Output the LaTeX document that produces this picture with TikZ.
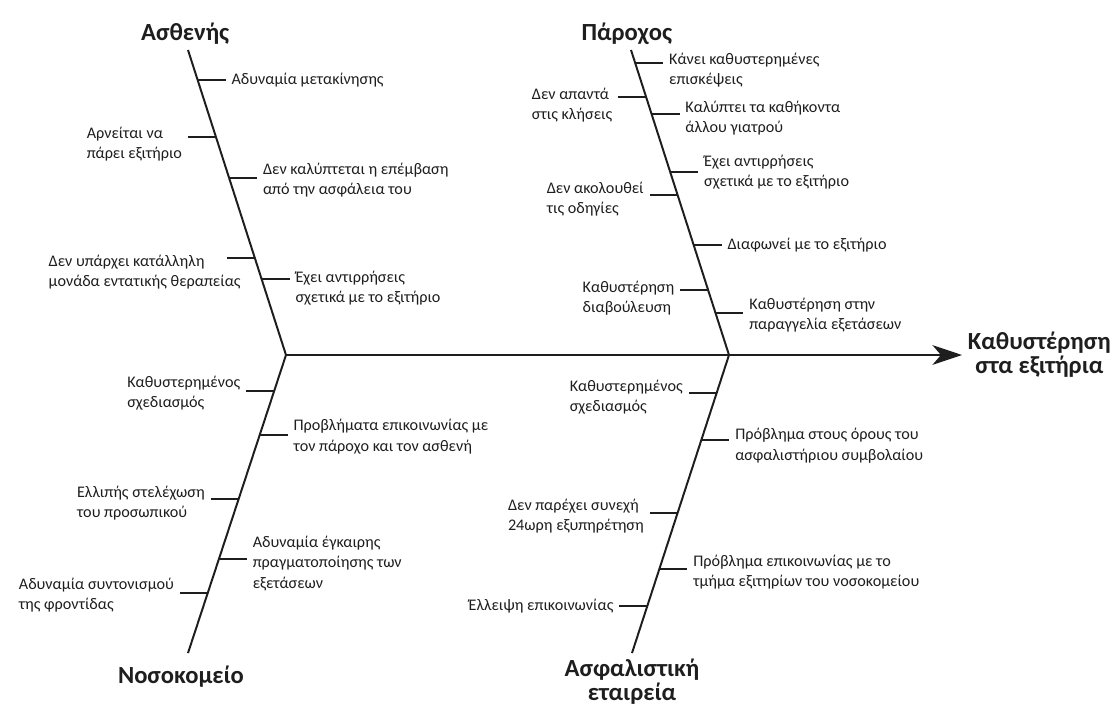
\documentclass[tikz,border=0pt]{standalone}
\usepackage{fontspec}
\setmainfont{Carlito}
\usetikzlibrary{arrows.meta, positioning, calc}
\definecolor{Ink}{RGB}{30, 30, 30}

\begin{document}
\begin{tikzpicture}[
    x=0.025cm, y=-0.025cm,
    bone/.style={draw=Ink, line width=1.4pt},
    spine/.style={-{Stealth[length=21pt, width=14pt, inset=6pt]}, draw=Ink, line width=1.5pt},
    tick/.style={draw=Ink, line width=1pt},
    cause/.style={text=Ink, font=\fontsize{11.5}{14.6}\selectfont, align=left,
                  inner xsep=4pt, inner ysep=1pt},
    head/.style={text=Ink, font=\fontsize{17.5}{17}\selectfont\bfseries, align=center, inner sep=1pt}
]
\useasboundingbox (0,0) rectangle (1115,711);

% ends of the four bones
\coordinate (jL) at (286,355);
\coordinate (jR) at (729,355);
\coordinate (pat) at (188,50);
\coordinate (hos) at (188,653);
\coordinate (pro) at (631,50);
\coordinate (ins) at (632,653);

% effect and main spine
\node[head, anchor=west, inner xsep=4pt] (effect) at (962,355) {Καθυστέρηση\\στα εξιτήρια};
\draw[spine] (jL) -- (effect.west);

% bones, with the points where the causes branch off
\draw[bone] (pat) -- (jL) coordinate[pos=0.098] (a1) coordinate[pos=0.285] (a2)
    coordinate[pos=0.420] (a3) coordinate[pos=0.682] (a4) coordinate[pos=0.751] (a5);
\draw[bone] (jL) -- (hos) coordinate[pos=0.121] (a6) coordinate[pos=0.268] (a7)
    coordinate[pos=0.483] (a8) coordinate[pos=0.685] (a9) coordinate[pos=0.799] (a10);
\draw[bone] (pro) -- (jR) coordinate[pos=0.043] (a11) coordinate[pos=0.154] (a12)
    coordinate[pos=0.210] (a13) coordinate[pos=0.400] (a14) coordinate[pos=0.475] (a15)
    coordinate[pos=0.639] (a16) coordinate[pos=0.787] (a17) coordinate[pos=0.862] (a18);
\draw[bone] (jR) -- (ins) coordinate[pos=0.128] (a19) coordinate[pos=0.285] (a20)
    coordinate[pos=0.530] (a21) coordinate[pos=0.718] (a22) coordinate[pos=0.842] (a23);

% category titles
\node[head, above=3pt of pat, xshift=-2pt] (tpat) {Ασθενής};
\node[head, above=3pt of pro, xshift=-3pt] (tpro) {Πάροχος};
\node[head, below=8pt of hos, xshift=-5pt] (thos) {Νοσοκομείο};
\node[head, below=4pt of ins, inner sep=0pt] (tins) {Ασφαλιστική\\εταιρεία};

% patient
\node[cause, anchor=west] (l1) at ($(a1)+(28,0)$) {Αδυναμία μετακίνησης};
\node[cause, anchor=east] (l2) at ($(a2)+(-28,7)$) {Αρνείται να\\πάρει εξιτήριο};
\node[cause, anchor=west] (l3) at ($(a3)+(28,2)$) {Δεν καλύπτεται η επέμβαση\\από την ασφάλεια του};
\coordinate (e4) at ($(a4)+(-28,0)$);
\node[cause, anchor=west] (l4) at ($(e4)+(-184,14)$) {Δεν υπάρχει κατάλληλη\\μονάδα εντατικής θεραπείας};
\node[cause, anchor=west] (l5) at ($(a5)+(28,9)$) {Έχει αντιρρήσεις\\σχετικά με το εξιτήριο};

% hospital
\node[cause, anchor=east] (l6) at ($(a6)+(-28,2)$) {Καθυστερημένος\\σχεδιασμός};
\node[cause, anchor=west] (l7) at ($(a7)+(28,2)$) {Προβλήματα επικοινωνίας με\\τον πάροχο και τον ασθενή};
\node[cause, anchor=east] (l8) at ($(a8)+(-28,4)$) {Ελλιπής στελέχωση\\του προσωπικού};
\node[cause, anchor=west] (l9) at ($(a9)+(28,4)$) {Αδυναμία έγκαιρης\\πραγματοποίησης των\\εξετάσεων};
\node[cause, anchor=east] (l10) at ($(a10)+(-28,2)$) {Αδυναμία συντονισμού\\της φροντίδας};

% provider
\node[cause, anchor=west] (l11) at ($(a11)+(28,7)$) {Κάνει καθυστερημένες\\επισκέψεις};
\node[cause, anchor=east] (l12) at ($(a12)+(-28,8)$) {Δεν απαντά\\στις κλήσεις};
\node[cause, anchor=west] (l13) at ($(a13)+(28,4)$) {Καλύπτει τα καθήκοντα\\άλλου γιατρού};
\node[cause, anchor=west] (l14) at ($(a14)+(28,0)$) {Έχει αντιρρήσεις\\σχετικά με το εξιτήριο};
\node[cause, anchor=east] (l15) at ($(a15)+(-28,4)$) {Δεν ακολουθεί\\τις οδηγίες};
\node[cause, anchor=west] (l16) at ($(a16)+(28,0)$) {Διαφωνεί με το εξιτήριο};
\node[cause, anchor=east] (l17) at ($(a17)+(-28,8)$) {Καθυστέρηση\\διαβούλευση};
\node[cause, anchor=west] (l18) at ($(a18)+(28,2)$) {Καθυστέρηση στην\\παραγγελία εξετάσεων};

% insurance company
\node[cause, anchor=east] (l19) at ($(a19)+(-28,4)$) {Καθυστερημένος\\σχεδιασμός};
\node[cause, anchor=west] (l20) at ($(a20)+(28,6)$) {Πρόβλημα στους όρους του\\ασφαλιστήριου συμβολαίου};
\node[cause, anchor=east] (l21) at ($(a21)+(-28,3)$) {Δεν παρέχει συνεχή\\24ωρη εξυπηρέτηση};
\node[cause, anchor=west] (l22) at ($(a22)+(28,3)$) {Πρόβλημα επικοινωνίας με το\\τμήμα εξιτηρίων του νοσοκομείου};
\node[cause, anchor=east] (l23) at ($(a23)+(-28,0)$) {Έλλειψη επικοινωνίας};

% small branches
\draw[tick] (a1) -- (a1 -| l1.west) (a3) -- (a3 -| l3.west) (a5) -- (a5 -| l5.west)
    (a2) -- (a2 -| l2.east) (a4) -- (e4);
\draw[tick] (a7) -- (a7 -| l7.west) (a9) -- (a9 -| l9.west)
    (a6) -- (a6 -| l6.east) (a8) -- (a8 -| l8.east) (a10) -- (a10 -| l10.east);
\draw[tick] (a11) -- (a11 -| l11.west) (a13) -- (a13 -| l13.west) (a14) -- (a14 -| l14.west)
    (a16) -- (a16 -| l16.west) (a18) -- (a18 -| l18.west)
    (a12) -- (a12 -| l12.east) (a15) -- (a15 -| l15.east) (a17) -- (a17 -| l17.east);
\draw[tick] (a20) -- (a20 -| l20.west) (a22) -- (a22 -| l22.west)
    (a19) -- (a19 -| l19.east) (a21) -- (a21 -| l21.east) (a23) -- (a23 -| l23.east);
\end{tikzpicture}
\end{document}
